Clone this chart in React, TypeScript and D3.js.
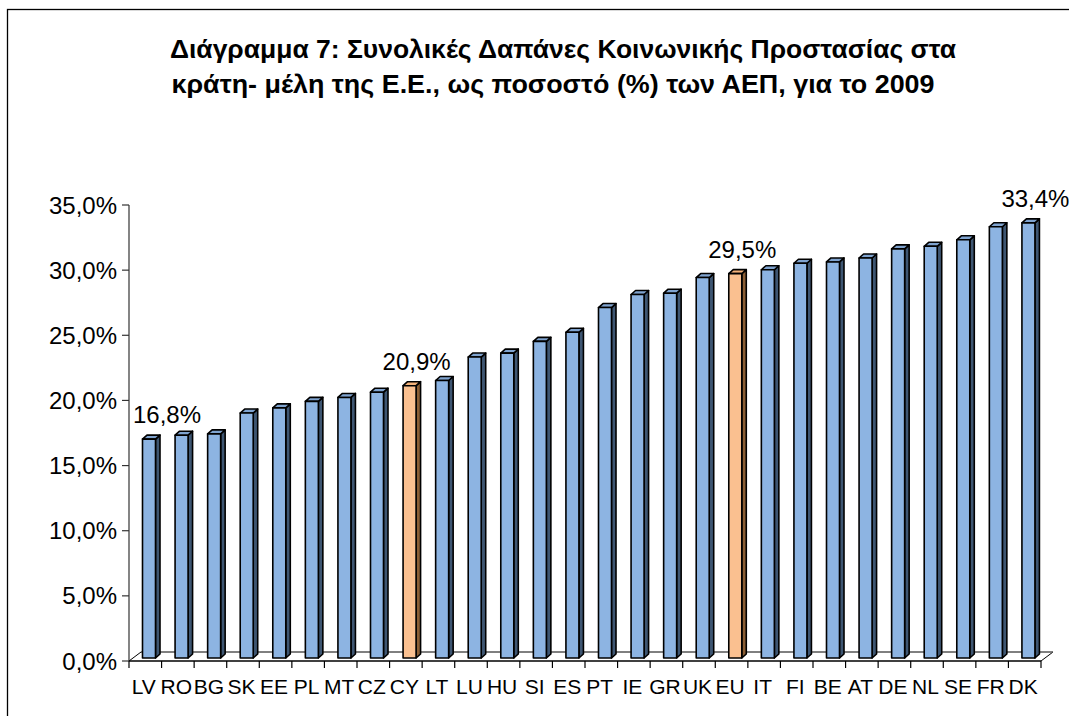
import React from "react";
import * as d3 from "d3";

const categories = ["LV","RO","BG","SK","EE","PL","MT","CZ","CY","LT","LU","HU","SI","ES","PT","IE","GR","UK","EU","IT","FI","BE","AT","DE","NL","SE","FR","DK"];
const values = [16.8,17.1,17.2,18.8,19.2,19.7,20.0,20.4,20.9,21.3,23.1,23.4,24.3,25.0,26.9,27.9,28.0,29.2,29.5,29.8,30.3,30.4,30.7,31.4,31.6,32.1,33.1,33.4];
const highlighted = ["CY","EU"];
const labelled = ["LV","CY","EU","DK"];
const yTicks = [0,5,10,15,20,25,30,35];
const titleLines = [
  "Διάγραμμα 7: Συνολικές Δαπάνες Κοινωνικής Προστασίας στα",
  "κράτη- μέλη της Ε.Ε., ως ποσοστό (%) των ΑΕΠ, για το 2009",
];
const titleWidths = [786, 763];

const W = 1069;
const H = 716;
const FONT = "'Liberation Sans', Arial, sans-serif";

const fmt = (v: number) => v.toFixed(1).replace(".", ",") + "%";

export default function App() {
  const x0 = 129, x1 = 1041;
  const yBase = 661, yTop = 205;
  const x = d3.scaleBand<string>().domain(categories).range([x0, x1]).paddingInner(0).paddingOuter(0);
  const y = d3.scaleLinear().domain([0, 35]).range([yBase, yTop]);
  const bw = x.bandwidth();
  const depthX = 12, depthY = 9; // floor depth
  const fOff = 13.5, fW = 13, sdx = 4.5, sdy = 4, lift = 3;

  return (
    <svg width={W} height={H} style={{ position: "absolute", left: 0, top: 0, background: "#fff" }} fontFamily={FONT}>
      <rect x={0} y={0} width={W} height={H} fill="#fff" />
      <rect x={7.5} y={9.5} width={1150} height={900} fill="none" stroke="#000" strokeWidth={1.3} />
      {titleLines.map((t, i) => (
        <text key={i} x={563 - i * 10} y={58 + i * 35} textAnchor="middle" fontSize={25} fontWeight="bold" fill="#000"
          textLength={titleWidths[i]} lengthAdjust="spacingAndGlyphs">{t}</text>
      ))}
      {/* floor */}
      <path d={`M${x0},${yBase} L${x0 + depthX},${yBase - depthY} L${x1 + depthX},${yBase - depthY} L${x1},${yBase}`} fill="none" stroke="#000" strokeWidth={1} />
      <line x1={x0 + depthX} y1={yBase - depthY} x2={x1 + depthX} y2={yBase - depthY} stroke="#808080" strokeWidth={1} />
      {/* y axis */}
      <line x1={x0} y1={yTop} x2={x0} y2={yBase} stroke="#333" strokeWidth={1.2} />
      {yTicks.map((t) => (
        <g key={t}>
          <line x1={x0 - 7} x2={x0} y1={y(t)} y2={y(t)} stroke="#333" strokeWidth={1.2} />
          <text x={117} y={y(t)} dy="0.36em" textAnchor="end" fontSize={24} fill="#000">{fmt(t)}</text>
        </g>
      ))}
      {/* x axis */}
      <line x1={x0} y1={yBase} x2={x1} y2={yBase} stroke="#000" strokeWidth={1.5} />
      {categories.map((c) => (
        <line key={c} x1={x(c)!} x2={x(c)!} y1={yBase} y2={yBase + 7} stroke="#000" strokeWidth={1.2} />
      ))}
      <line x1={x1} x2={x1} y1={yBase} y2={yBase + 7} stroke="#000" strokeWidth={1.2} />
      {categories.map((c) => (
        <text key={c} x={x(c)! + bw / 2 - 1.5} y={694} textAnchor="middle" fontSize={21} fill="#000">{c}</text>
      ))}
      {/* bars */}
      {categories.map((c, i) => {
        const v = values[i];
        const hi = highlighted.includes(c);
        const front = hi ? "#FAC090" : "#8DB4E2";
        const side = hi ? "#8B5E34" : "#3E5672";
        const top = hi ? "#F4B27A" : "#7FA3CF";
        const bx = x(c)! + fOff;
        const bt = y(v) - lift;
        const bb = yBase - lift;
        return (
          <g key={c} stroke="#000" strokeWidth={1.6} strokeLinejoin="round">
            <path d={`M${bx + fW},${bt} L${bx + fW + sdx},${bt - sdy} L${bx + fW + sdx},${bb - sdy} L${bx + fW},${bb} Z`} fill={side} />
            <path d={`M${bx},${bt} L${bx + sdx},${bt - sdy} L${bx + fW + sdx},${bt - sdy} L${bx + fW},${bt} Z`} fill={top} />
            <rect x={bx} y={bt} width={fW} height={bb - bt} fill={front} />
          </g>
        );
      })}
      {/* data labels */}
      {categories.map((c, i) => {
        if (!labelled.includes(c)) return null;
        const v = values[i];
        const cx = Math.max(x(c)! + fOff + fW / 2 + 7, x0 + 3 + 35);
        return (
          <text key={c} x={cx} y={y(v) - lift - 16} textAnchor="middle" fontSize={24} fill="#000">{fmt(v)}</text>
        );
      })}
    </svg>
  );
}
